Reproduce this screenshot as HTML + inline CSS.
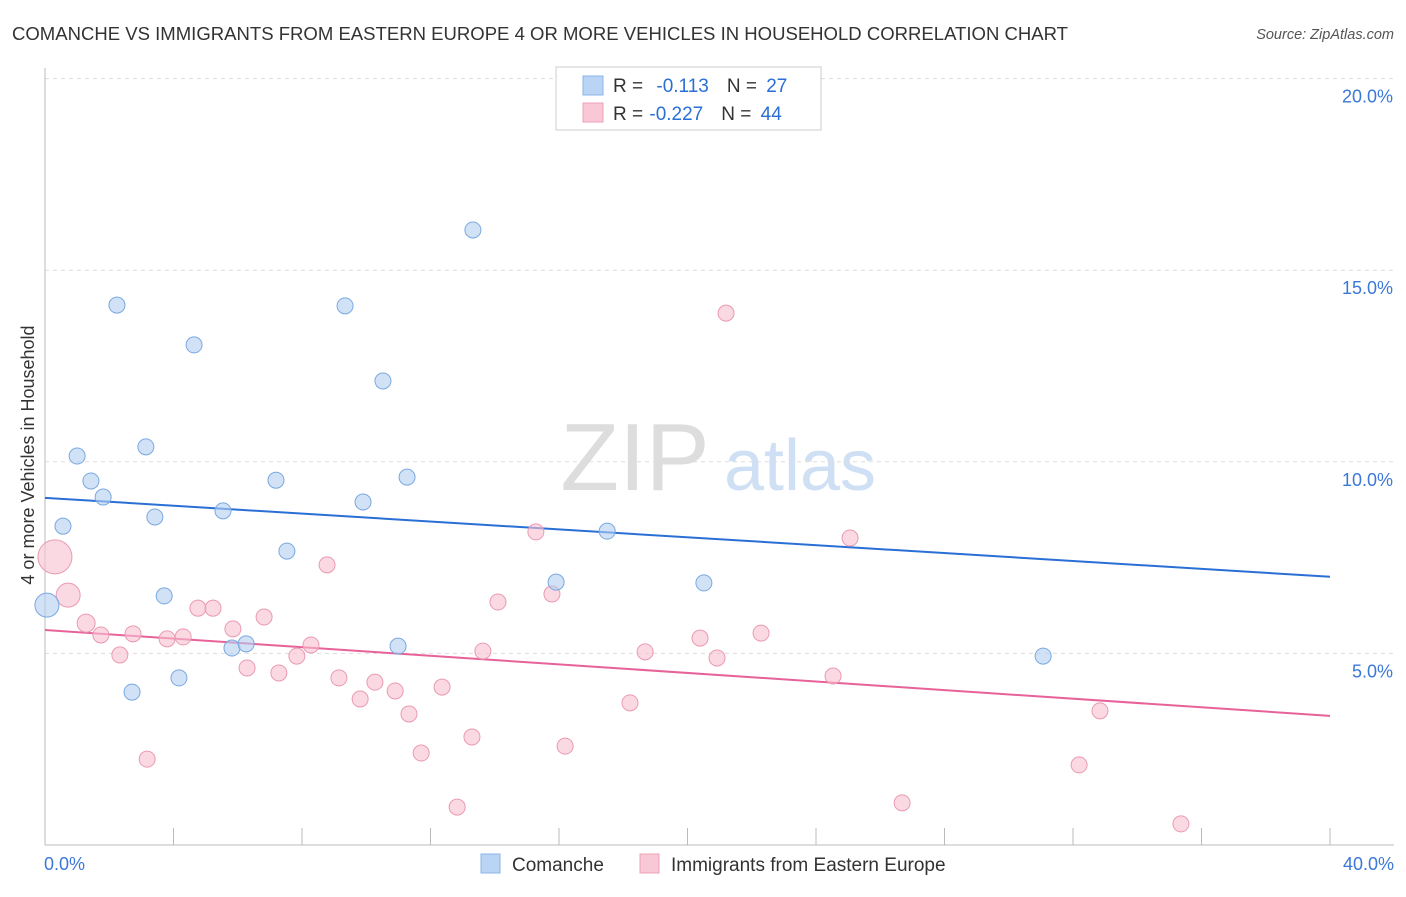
<!DOCTYPE html>
<html><head><meta charset="utf-8"><style>
body{margin:0;background:#fff;font-family:"Liberation Sans",sans-serif;}
svg text{font-family:"Liberation Sans",sans-serif;}
</style></head><body>
<svg width="1406" height="892" viewBox="0 0 1406 892" xmlns="http://www.w3.org/2000/svg">
<text x="12" y="40" font-size="18.5" fill="#333" textLength="1056" lengthAdjust="spacingAndGlyphs">COMANCHE VS IMMIGRANTS FROM EASTERN EUROPE 4 OR MORE VEHICLES IN HOUSEHOLD CORRELATION CHART</text>
<text x="1394" y="39" font-size="14.5" fill="#555" font-style="italic" text-anchor="end">Source: ZipAtlas.com</text>
<g>
<text x="635" y="490" font-size="96" fill="#ddd" font-family="Liberation Serif" text-anchor="middle">ZIP</text>
<text x="800" y="490" font-size="72" fill="#cfe0f5" text-anchor="middle">atlas</text>
</g>
<g id="grid"></g>
<g id="axes"></g>
<g id="trends"></g>
<g id="points"></g>
<text transform="translate(34,455) rotate(-90)" font-size="18" fill="#333" text-anchor="middle">4 or more Vehicles in Household</text>
<g>
<rect x="556" y="67" width="265" height="63" fill="#fff" stroke="#ccc"/>
<rect x="583" y="76" width="20" height="19" fill="#b9d4f4" stroke="#8ab4e8"/>
<rect x="583" y="103" width="20" height="19" fill="#f8c8d6" stroke="#eea0b5"/>
<text x="613" y="92" font-size="19" fill="#333">R = <tspan fill="#2a6fd6" dx="8">-0.113</tspan><tspan fill="#333" dx="18">N = </tspan><tspan fill="#2a6fd6" dx="4">27</tspan></text>
<text x="613" y="120" font-size="19" fill="#333">R = <tspan fill="#2a6fd6" dx="1">-0.227</tspan><tspan fill="#333" dx="18">N = </tspan><tspan fill="#2a6fd6" dx="4">44</tspan></text>
</g>
<g>
<rect x="481" y="854" width="19" height="19" fill="#b9d4f4" stroke="#8ab4e8"/>
<text x="512" y="871" font-size="19" fill="#333">Comanche</text>
<rect x="640" y="854" width="19" height="19" fill="#f8c8d6" stroke="#eea0b5"/>
<text x="671" y="871" font-size="19" fill="#333">Immigrants from Eastern Europe</text>
</g>
</svg>
<script>
const xTicks=[0,4,8,12,16,20,24,28,32,36,40];
const yTicks=[5,10,15,20];
const xEndLabels=["0.0%","40.0%"];
const blueX=[0.06,0.56,1.00,1.43,1.81,2.24,2.71,3.14,3.42,3.71,4.17,4.64,5.54,5.82,6.26,7.19,7.53,9.34,9.90,10.52,10.99,11.27,13.32,15.91,17.50,20.51,31.07];
const blueY=[6.26,8.32,10.15,9.50,9.08,14.09,3.99,10.39,8.56,6.50,4.36,13.05,8.72,5.14,5.25,9.52,7.67,14.07,8.95,12.11,5.19,9.60,16.05,6.86,8.19,6.84,4.93];
const pinkX=[0.31,0.72,1.28,1.74,2.33,2.74,3.18,3.80,4.30,4.76,5.23,5.85,6.29,6.82,7.28,7.84,8.28,8.78,9.15,9.81,10.27,10.90,11.33,11.71,12.36,12.83,13.29,13.63,14.10,15.28,15.78,16.19,18.21,18.68,20.39,20.92,21.20,22.29,24.53,25.06,26.68,32.19,32.84,35.36];
const pinkY=[7.52,6.52,5.79,5.48,4.96,5.51,2.24,5.38,5.43,6.18,6.18,5.64,4.62,5.95,4.49,4.93,5.22,7.31,4.36,3.81,4.25,4.02,3.42,2.40,4.12,0.99,2.82,5.06,6.34,8.17,6.55,2.58,3.71,5.04,5.40,4.88,13.88,5.53,4.41,8.01,1.10,2.09,3.50,0.55];
const blueTrend=[9.06,7.00];
const pinkTrend=[5.61,3.37];
const NS="http://www.w3.org/2000/svg";
const X=v=>45+v/40*1285;
const Y=v=>845-v/5*191.6;
function mk(parent,tag,attrs){const e=document.createElementNS(NS,tag);for(const k in attrs)e.setAttribute(k,attrs[k]);document.getElementById(parent).appendChild(e);return e;}
yTicks.forEach(t=>{
 const l=mk('grid','line',{x1:45,x2:1394,y1:Y(t),y2:Y(t),stroke:'#ddd','stroke-dasharray':'4,4'});
 
 
 const tx=mk('grid','text',{x:1393,y:Y(t)+24,'font-size':18,fill:'#3b78d8','text-anchor':'end'});
 tx.textContent=t.toFixed(1)+'%';
 
 
});
const ax=mk('axes','line',{x1:45,x2:45,y1:68,y2:845,stroke:'#bbb'});


const bx=mk('axes','line',{x1:45,x2:1394,y1:845,y2:845,stroke:'#bbb'});


xTicks.forEach(t=>{
 const l=mk('axes','line',{x1:X(t),x2:X(t),y1:828,y2:845,stroke:'#bbb'});
 
 
});
[[0,'start',44],[40,'end',1394]].forEach((p,i)=>{
 const tx=mk('axes','text',{x:p[2],y:870,'font-size':18,fill:'#3b78d8','text-anchor':p[1]});
 tx.textContent=xEndLabels[i];
 
 
});
function trend(tr,color,name){
 const l=mk('trends','line',{x1:X(0),y1:Y(tr[0]),x2:X(40),y2:Y(tr[1]),stroke:color,'stroke-width':2});
 
 
}
trend(blueTrend,'#2a6fd6','comanche-trend-line');
trend(pinkTrend,'#e8629a','immigrants-trend-line');
function pts(xs,ys,fill,stroke,name,big){
 xs.forEach((x,i)=>{
  const r=big[i]||8;
  const c=mk('points','circle',{cx:X(x),cy:Y(ys[i]),r:r,fill:fill,'fill-opacity':0.6,stroke:stroke,'stroke-width':1});
  
  
 });
}
pts(pinkX,pinkY,'#f8c0d0','#ea9ab2','immigrants-point',{0:17,1:12,2:9});
pts(blueX,blueY,'#b2cff2','#7aa8e0','comanche-point',{0:12});
</script>
</body></html>
